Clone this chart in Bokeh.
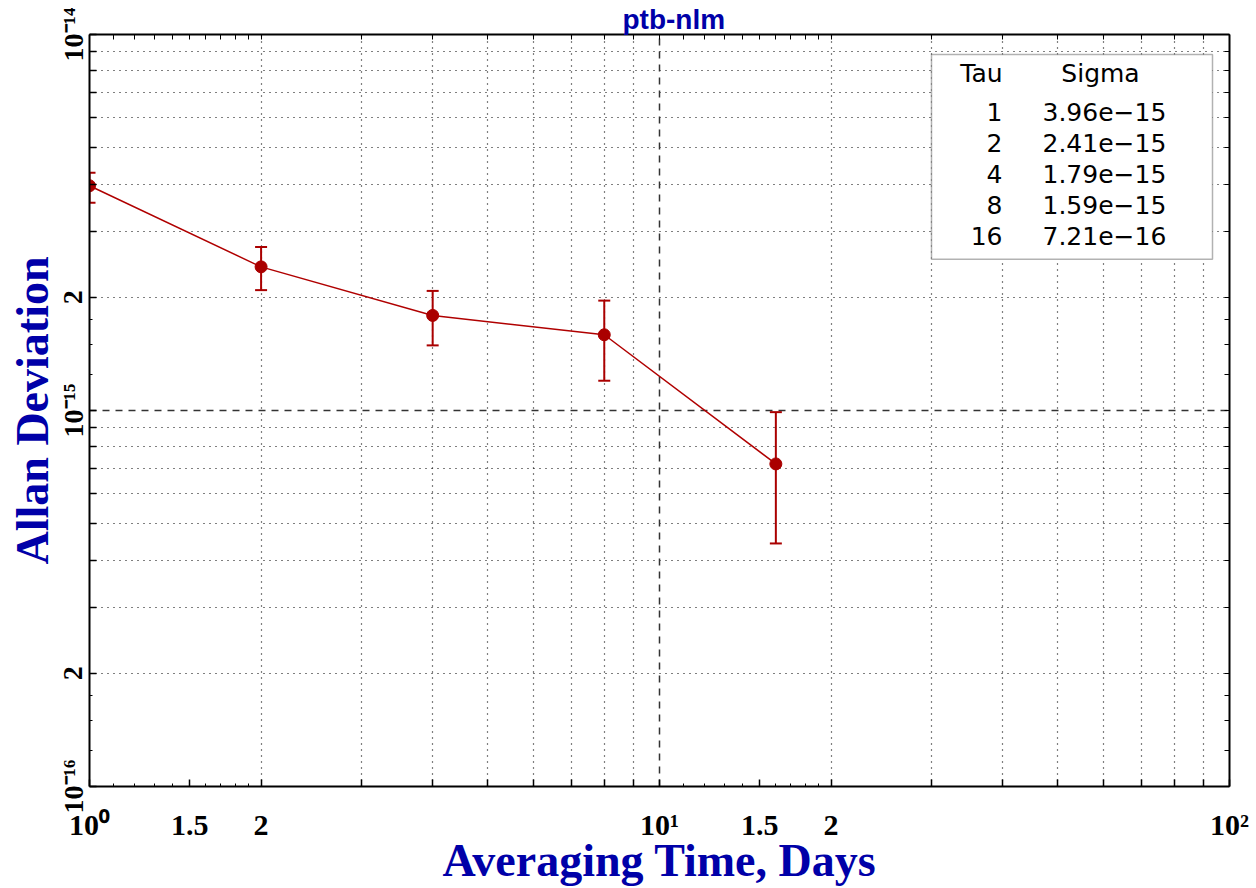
import math
from bokeh.plotting import figure
from bokeh.models import (Range1d, FixedTicker, LogAxis, Grid, Label, Whisker,
                          TeeHead, ColumnDataSource, BoxAnnotation)
from bokeh.embed import file_html
from bokeh.resources import INLINE

# ---- data ----
tau = [1, 2, 4, 8, 16]
sigma = [3.96e-15, 2.41e-15, 1.79e-15, 1.59e-15, 7.21e-16]
sigma_hi = [4.29e-15, 2.72e-15, 2.08e-15, 1.96e-15, 0.99e-15]
sigma_lo = [3.57e-15, 2.09e-15, 1.49e-15, 1.20e-15, 4.43e-16]

x_label_ticks = [1, 1.5, 2, 10, 15, 20, 100]
x_label_texts = ["10\u2070", "1.5", "2", "10\u00b9", "1.5", "2", "10\u00b2"]
y_label_ticks = [1e-16, 2e-16, 1e-15, 2e-15, 1e-14]
y_label_texts = ["10\u207b\u00b9\u2076", "2", "10\u207b\u00b9\u2075", "2", "10\u207b\u00b9\u2074"]

title_text = "ptb-nlm"
x_title = "Averaging Time, Days"
y_title = "Allan Deviation"
legend_head = ["Tau", "Sigma"]

# ---- layout ----
W, H = 1256, 888
FL, FR, FT, FB = 89, 1229, 34, 787
RED = "#aa0000"
BLUE = "#0000a8"
SERIF = "Liberation Serif"

p = figure(width=W, height=H, x_axis_type="log", y_axis_type="log",
           x_range=Range1d(1, 100), y_range=Range1d(1e-16, 1e-14),
           output_backend="svg", toolbar_location=None,
           min_border_left=FL, min_border_right=W - FR,
           min_border_top=FT, min_border_bottom=H - FB)
p.outline_line_color = None
p.background_fill_color = "white"
p.border_fill_color = "white"

# tick positions
x_grid_ticks = [m * 10 ** e for e in (0, 1) for m in range(2, 10)]
y_grid_ticks = [m * 10.0 ** e for e in (-16, -15) for m in range(2, 10)]
x_fine = [1 + k / 10 for k in range(1, 10) if k != 5] + [10 + k for k in range(1, 10) if k != 5]
y_fine = [f * 10.0 ** e for e in (-16, -15) for f in (1.25, 1.5, 1.75)]

x_major = sorted(set(x_label_ticks) | set(x_grid_ticks))
y_major = sorted(set(y_label_ticks) | set(y_grid_ticks))


def base_axis(ax):
    ax.axis_line_width = 2
    ax.axis_line_color = "black"
    ax.major_tick_out = 0
    ax.minor_tick_out = 0
    ax.major_tick_line_width = 1.5
    ax.minor_tick_line_width = 1
    ax.major_tick_line_color = "black"
    ax.minor_tick_line_color = "black"


# bottom axis
xa = p.xaxis[0]
base_axis(xa)
xa.ticker = FixedTicker(ticks=x_major, minor_ticks=x_fine)
xa.major_tick_in = 7
xa.minor_tick_in = 3
xa.major_label_overrides = {t: "" for t in x_major} | dict(zip(x_label_ticks, x_label_texts))
xa.major_label_text_font = SERIF
xa.major_label_text_font_style = "bold"
xa.major_label_text_font_size = "30px"
xa.major_label_text_color = "black"
xa.major_label_standoff = 21
xa.axis_label = x_title
xa.axis_label_text_font = SERIF
xa.axis_label_text_font_style = "bold"
xa.axis_label_text_font_size = "46px"
xa.axis_label_text_color = BLUE
xa.axis_label_standoff = -9

# left axis
ya = p.yaxis[0]
base_axis(ya)
ya.ticker = FixedTicker(ticks=y_major, minor_ticks=y_fine)
ya.major_tick_in = 7
ya.minor_tick_in = 3
ya.major_label_overrides = {t: "" for t in y_major} | dict(zip(y_label_ticks, y_label_texts))
ya.major_label_orientation = "vertical"
ya.major_label_text_font = SERIF
ya.major_label_text_font_style = "bold"
ya.major_label_text_font_size = "28px"
ya.major_label_text_color = "black"
ya.major_label_standoff = 1
ya.axis_label = y_title
ya.axis_label_text_font = SERIF
ya.axis_label_text_font_style = "bold"
ya.axis_label_text_font_size = "46px"
ya.axis_label_text_color = BLUE
ya.axis_label_standoff = -3

# top and right axes: ticks only
top_ax = LogAxis(ticker=FixedTicker(ticks=[], minor_ticks=x_major + x_fine))
base_axis(top_ax)
top_ax.minor_tick_in = 5
top_ax.major_label_standoff = 0
p.add_layout(top_ax, "above")
right_ax = LogAxis(ticker=FixedTicker(ticks=[], minor_ticks=y_major + y_fine))
base_axis(right_ax)
right_ax.minor_tick_in = 5
right_ax.major_label_standoff = 0
p.add_layout(right_ax, "right")

# title
p.title.text = title_text
p.title.align = "left"
p.title.offset = 533
p.title.standoff = 0
p.title.text_font = "Liberation Sans"
p.title.text_font_style = "bold"
p.title.text_font_size = "28px"
p.title.text_color = BLUE

# ---- grids ----
p.xgrid.visible = False
p.ygrid.visible = False
p.add_layout(Grid(dimension=0, ticker=FixedTicker(ticks=x_grid_ticks),
                  grid_line_color="black", grid_line_dash="1 5", grid_line_width=1.2))
p.add_layout(Grid(dimension=1, ticker=FixedTicker(ticks=y_grid_ticks),
                  grid_line_color="black", grid_line_dash="1 5", grid_line_width=1.2))
p.add_layout(Grid(dimension=0, ticker=FixedTicker(ticks=[10]),
                  grid_line_color="#333333", grid_line_dash="7 6", grid_line_width=1.5))
p.add_layout(Grid(dimension=1, ticker=FixedTicker(ticks=[1e-15]),
                  grid_line_color="#333333", grid_line_dash="7 6", grid_line_width=1.5))

# ---- data ----
src = ColumnDataSource(dict(tau=tau, sigma=sigma, hi=sigma_hi, lo=sigma_lo))
p.line("tau", "sigma", source=src, line_color="#b00000", line_width=1.5)
p.add_layout(Whisker(base="tau", upper="hi", lower="lo", source=src, dimension="height",
                     line_color=RED, line_width=2,
                     upper_head=TeeHead(size=12, line_color=RED, line_width=2),
                     lower_head=TeeHead(size=12, line_color=RED, line_width=2)))
p.scatter("tau", "sigma", source=src, size=12, color=RED)

# ---- legend table ----
xmin, xmax = p.x_range.start, p.x_range.end
ymin, ymax = p.y_range.start, p.y_range.end


def px_x(px):
    return 10 ** (math.log10(xmin) + math.log10(xmax / xmin) * (px - FL) / (FR - FL))


def px_y(py):
    return 10 ** (math.log10(ymax) - math.log10(ymax / ymin) * (py - FT) / (FB - FT))


def lab(x, y, text, align="center"):
    p.add_layout(Label(x=x, y=y, text=text, text_align=align, text_baseline="middle",
                       text_font="DejaVu Sans", text_font_size="25px", text_color="black"))


p.add_layout(BoxAnnotation(left=px_x(931), right=px_x(1212), top=px_y(54), bottom=px_y(259),
                           fill_color="white", fill_alpha=1.0, line_color="black",
                           line_width=1.5))
lab(px_x(981), px_y(73), legend_head[0])
lab(px_x(1100), px_y(73), legend_head[1])
for i, (t, s) in enumerate(zip(tau, sigma)):
    yy = px_y(112 + 31 * i)
    lab(px_x(1002), yy, str(t), align="right")
    lab(px_x(1042), yy, f"{s:.2e}".replace("-", "\u2212"), align="left")

open("out.html", "w").write(file_html(p, INLINE))
